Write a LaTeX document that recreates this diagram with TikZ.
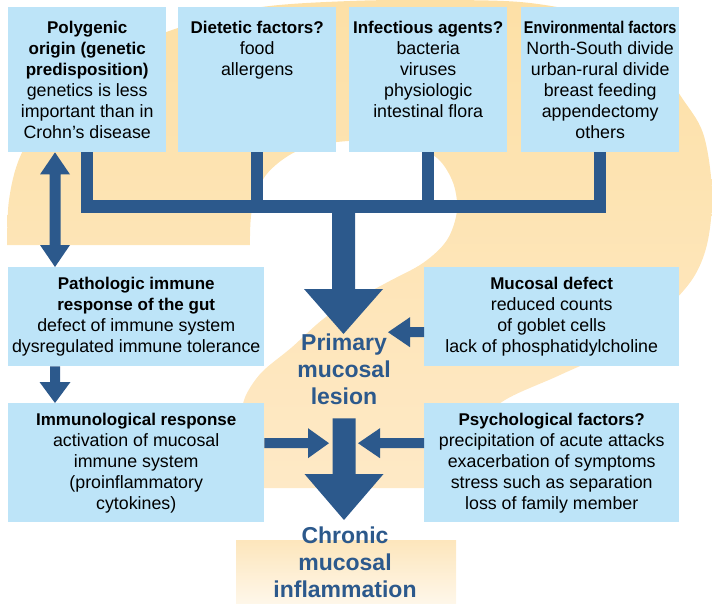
\documentclass[tikz,border=0pt]{standalone}
\usepackage{fontspec}
\setmainfont{Liberation Sans}
\usepackage{graphicx}
\usetikzlibrary{calc}
\definecolor{boxblue}{RGB}{189,228,248}
\definecolor{arrblue}{RGB}{44,89,140}
\definecolor{qmtop}{RGB}{253,224,166}
\definecolor{qmbot}{RGB}{254,233,198}
\definecolor{dottop}{RGB}{253,230,188}
\definecolor{dotbot}{RGB}{254,247,234}
\newcommand\hdline[1]{{\fontsize{17}{21}\selectfont\bfseries #1}}
% block arrows: from, to, shaft width, head width, head length
\newcommand\DownArrowBlk[5]{\fill[arrblue] let \p1=(#1), \p2=(#2) in
 (\x1-#3/2,\y1) -- (\x1-#3/2,\y2+#5) -- (\x1-#4/2,\y2+#5) -- (\x1,\y2) --
 (\x1+#4/2,\y2+#5) -- (\x1+#3/2,\y2+#5) -- (\x1+#3/2,\y1) -- cycle;}
\newcommand\LeftArrowBlk[5]{\fill[arrblue] let \p1=(#1), \p2=(#2) in
 (\x1,\y1+#3/2) -- (\x2+#5,\y1+#3/2) -- (\x2+#5,\y1+#4/2) -- (\x2,\y1) --
 (\x2+#5,\y1-#4/2) -- (\x2+#5,\y1-#3/2) -- (\x1,\y1-#3/2) -- cycle;}
\newcommand\RightArrowBlk[5]{\fill[arrblue] let \p1=(#1), \p2=(#2) in
 (\x1,\y1+#3/2) -- (\x2-#5,\y1+#3/2) -- (\x2-#5,\y1+#4/2) -- (\x2,\y1) --
 (\x2-#5,\y1-#4/2) -- (\x2-#5,\y1-#3/2) -- (\x1,\y1-#3/2) -- cycle;}
\newcommand\DoubleArrowBlk[5]{\fill[arrblue] let \p1=(#1), \p2=(#2) in
 (\x1,\y1) -- (\x1+#4/2,\y1-#5) -- (\x1+#3/2,\y1-#5) -- (\x1+#3/2,\y2+#5) --
 (\x1+#4/2,\y2+#5) -- (\x1,\y2) -- (\x1-#4/2,\y2+#5) -- (\x1-#3/2,\y2+#5) --
 (\x1-#3/2,\y1-#5) -- (\x1-#4/2,\y1-#5) -- cycle;}
\begin{document}
\begin{tikzpicture}[x=1pt,y=-1pt,
  box/.style={fill=boxblue, inner sep=0pt, anchor=north west},
  txt/.style={align=center, inner sep=0pt, font=\fontsize{17.8}{21}\selectfont},
  bigtxt/.style={align=center, inner sep=0pt, text=arrblue, font=\fontsize{23}{27}\selectfont\bfseries},
  tree/.style={draw=arrblue, line width=12.5pt, line join=miter, line cap=butt}]
\useasboundingbox (0,0) rectangle (712,604);
\clip (0,0) rectangle (712,604);
% background question mark
\shade[top color=qmtop, bottom color=qmbot] (250,245) -- (7,245)
 -- plot[smooth, tension=0.55] coordinates {(7,245) (9,200) (20,157) (50,105) (100,62) (172,30) (255,8) (350,1) (450,0) (530,3) (600,18) (650,50) (680,95) (703,133) (712,190) (708,240) (695,275) (670,305) (627,343) (560,375) (505,400) (470,430) (455,470) (452,488)}
 -- (242,488) -- (240,417)
 -- plot[smooth, tension=0.55] coordinates {(240,417) (246,395) (262,372) (291,348) (330,314) (386,283) (423,263) (447,240) (457,210) (452,180) (433,155) (390,141) (337,142) (297,151) (266,175) (252,210) (250,245)}
 -- cycle;
% dot of the question mark
\node[anchor=north west, inner sep=0pt, minimum width=220pt, minimum height=64pt,
  top color=dottop, bottom color=dotbot] (dot) at (236,540) {};
% boxes
\node[box, minimum width=158pt, minimum height=145pt] (poly) at (8,7) {};
\node[box, minimum width=158pt, minimum height=145pt] (diet) at (178,7) {};
\node[box, minimum width=158pt, minimum height=145pt] (infect) at (349,7) {};
\node[box, minimum width=158pt, minimum height=145pt] (env) at (521,7) {};
\node[txt, anchor=north] (polyT) at ([yshift=-13.5pt]poly.north)
 {\hdline{Polygenic}\\\hdline{origin (genetic}\\\hdline{predisposition)}\\genetics is less\\important than in\\Crohn’s disease};
\node[txt, anchor=north] (dietT) at ([yshift=-13.5pt]diet.north)
 {\hdline{Dietetic factors?}\\food\\allergens};
\node[txt, anchor=north] (infectT) at ([yshift=-13.5pt]infect.north)
 {\hdline{Infectious agents?}\\bacteria\\viruses\\physiologic\\intestinal flora};
\node[txt, anchor=north] (envT) at ([yshift=-13.5pt]env.north)
 {\scalebox{0.85}[1]{\hdline{Environmental factors}}\\North-South divide\\urban-rural divide\\breast feeding\\appendectomy\\others};
\node[box, txt, anchor=north west, minimum width=256pt, minimum height=99pt] (path) at (8,267)
 {\hdline{Pathologic immune}\\\hdline{response of the gut}\\defect of immune system\\dysregulated immune tolerance};
\node[box, txt, anchor=north west, minimum width=255pt, minimum height=99pt] (mucosal) at (424,267)
 {\hdline{Mucosal defect}\\reduced counts\\of goblet cells\\lack of phosphatidylcholine};
\node[box, txt, anchor=north west, minimum width=256pt, minimum height=119pt] (immuno) at (8,403)
 {\hdline{Immunological response}\\activation of mucosal\\immune system\\(proinflammatory\\cytokines)};
\node[box, txt, anchor=north west, minimum width=255pt, minimum height=119pt] (psych) at (424,403)
 {\hdline{Psychological factors?}\\precipitation of acute attacks\\exacerbation of symptoms\\stress such as separation\\loss of family member};
% central texts
\node[bigtxt, anchor=north] (lesion) at (344,334) {Primary\\mucosal\\lesion};
\node[bigtxt, anchor=north] (chronic) at (345,527) {Chronic\\mucosal\\inflammation};
% tree connectors
\coordinate (barc) at (343.5,206.5);
\draw[tree] (poly.south) -- (poly.south |- barc) -| (env.south);
\draw[tree] (diet.south) -- (diet.south |- barc);
\draw[tree] (infect.south) -- (infect.south |- barc);
\DownArrowBlk{barc}{lesion.north}{23pt}{79pt}{45pt}
% left arrows
\DoubleArrowBlk{[xshift=47pt]poly.south west}{[xshift=47pt]path.north west}{11pt}{30pt}{22pt}
\DownArrowBlk{[xshift=47pt]path.south west}{[xshift=47pt]immuno.north west}{10pt}{31pt}{21pt}
% mucosal defect to lesion
\coordinate (mtip) at (388,332);
\LeftArrowBlk{[yshift=-15.5pt]mucosal.west}{mtip}{10pt}{30pt}{22pt}
% lesion to chronic inflammation
\DownArrowBlk{[yshift=-13pt]lesion.south}{[yshift=7pt]chronic.north}{23pt}{79pt}{46pt}
\coordinate (ltip) at (329,443);
\coordinate (rtip) at (358,443);
\RightArrowBlk{[yshift=19.5pt]immuno.east}{ltip}{10pt}{30pt}{21pt}
\LeftArrowBlk{[yshift=19.5pt]psych.west}{rtip}{10pt}{30pt}{22pt}
\end{tikzpicture}
\end{document}
